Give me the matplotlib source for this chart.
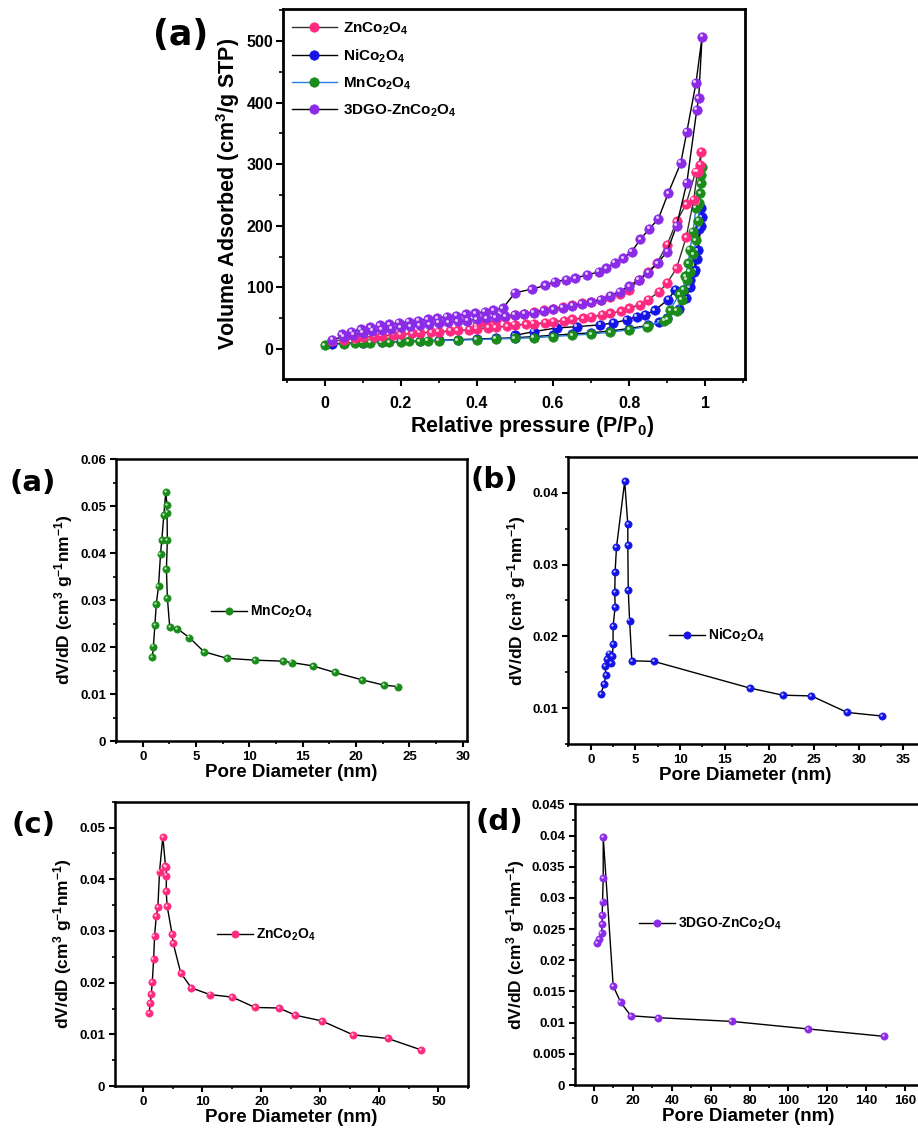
import matplotlib
matplotlib.use("Agg")
import matplotlib.pyplot as plt
from matplotlib import transforms
from matplotlib.ticker import MultipleLocator, FuncFormatter


# N2 adsorption / desorption isotherms (P/P0, cm3/g STP)
zn_ads_p = [0.02, 0.05, 0.08, 0.1, 0.13, 0.15, 0.18, 0.2, 0.23, 0.25, 0.28, 0.3, 0.33, 0.35,
            0.38, 0.4, 0.43, 0.45, 0.48, 0.5, 0.53, 0.55, 0.58, 0.6, 0.63, 0.65, 0.68, 0.7,
            0.73, 0.75, 0.78, 0.8, 0.83, 0.85, 0.88, 0.9, 0.925, 0.95, 0.97, 0.98, 0.99]
zn_ads_v = [12, 15, 17, 19, 20, 21, 23, 24, 25, 26, 27, 28, 29, 30,
            31, 33, 34, 35, 37, 39, 40, 41, 42, 44, 46, 48, 50, 52,
            55, 58, 61, 66, 72, 80, 93, 107, 131, 181, 242, 288, 320]
zn_des_p = [0.987, 0.975, 0.95, 0.925, 0.9, 0.873, 0.85, 0.825, 0.8, 0.775, 0.75, 0.725, 0.7,
            0.675, 0.65, 0.625, 0.6, 0.575, 0.55, 0.525, 0.5, 0.475, 0.45, 0.425, 0.4]
zn_des_v = [299, 288, 235, 207, 169, 139, 125, 112, 95, 89, 85, 80, 76,
            74, 71, 68, 65, 63, 60, 57, 55, 52, 47, 42, 38]

ni_ads_p = [0.02, 0.05, 0.1, 0.15, 0.2, 0.25, 0.3, 0.35, 0.4, 0.45, 0.5, 0.55, 0.6, 0.65,
            0.7, 0.75, 0.8, 0.85, 0.88, 0.9, 0.93, 0.95, 0.96, 0.97, 0.98, 0.985, 0.99]
ni_ads_v = [8, 9, 10, 11, 12, 13, 14, 15, 16, 17, 18, 20, 22, 24,
            26, 29, 33, 38, 43, 50, 64, 82, 100, 125, 160, 195, 228]
ni_des_p = [0.991, 0.989, 0.978, 0.974, 0.96, 0.943, 0.921, 0.903, 0.868, 0.842, 0.82,
            0.794, 0.758, 0.724, 0.662, 0.61, 0.55, 0.5]
ni_des_v = [214, 199, 146, 128, 112, 96, 96, 80, 63, 55, 52, 47, 42, 39, 36, 34, 28, 22]

mn_ads_p = [0.0, 0.05, 0.08, 0.1, 0.12, 0.15, 0.17, 0.2, 0.22, 0.25, 0.27, 0.3, 0.35, 0.4,
            0.45, 0.5, 0.55, 0.6, 0.65, 0.7, 0.75, 0.8, 0.85, 0.9, 0.925, 0.939, 0.952, 0.96,
            0.969, 0.976, 0.982, 0.985, 0.987, 0.989, 0.991]
mn_ads_v = [6, 8, 9, 9.5, 10, 10.5, 11, 11.5, 12, 12.5, 13, 13.5, 14, 15,
            16, 17, 18, 20, 22, 24, 27, 31, 37, 48, 62, 80, 112, 125,
            154, 176, 208, 237, 253, 269, 296]
mn_des_p = [0.988, 0.982, 0.976, 0.968, 0.96, 0.956, 0.948, 0.943, 0.932, 0.908, 0.892, 0.846]
mn_des_v = [282, 234, 229, 190, 161, 139, 118, 96, 89, 63, 46, 36]

go_ads_p = [0.02, 0.05, 0.075, 0.1, 0.125, 0.15, 0.175, 0.2, 0.225, 0.25, 0.275, 0.3, 0.325,
            0.35, 0.375, 0.4, 0.425, 0.45, 0.475, 0.5, 0.525, 0.55, 0.575, 0.6, 0.625, 0.65,
            0.675, 0.7, 0.725, 0.75, 0.775, 0.8, 0.825, 0.85, 0.875, 0.9, 0.925, 0.952,
            0.978, 0.983, 0.992]
go_ads_v = [15, 20, 23, 26, 29, 31, 33, 35, 37, 38, 40, 42, 43,
            45, 46, 48, 50, 51, 53, 55, 57, 59, 62, 64, 67, 70,
            73, 76, 80, 86, 93, 102, 112, 124, 139, 158, 200, 270,
            388, 407, 507]
go_des_p = [0.976, 0.952, 0.936, 0.903, 0.877, 0.853, 0.83, 0.807, 0.785, 0.763, 0.74, 0.72,
            0.69, 0.658, 0.635, 0.605, 0.58, 0.544, 0.5, 0.468, 0.443, 0.42, 0.395, 0.37,
            0.345, 0.32, 0.295, 0.27, 0.245, 0.22, 0.195, 0.17, 0.145, 0.12, 0.095, 0.07, 0.045]
go_des_v = [432, 353, 302, 253, 211, 195, 178, 158, 147, 140, 131, 125,
            120, 115, 112, 109, 103, 97, 91, 66, 63, 60, 58, 56,
            54, 52, 50, 48, 46, 44, 42, 40, 38, 35, 32, 28, 24]

# BJH pore size distributions (nm, cm3 g-1 nm-1)
mn_d = [0.9, 1.0, 1.14, 1.27, 1.48, 1.67, 1.79, 1.98, 2.16, 2.28, 2.28, 2.31, 2.22, 2.31,
        2.53, 3.24, 4.38, 5.74, 7.9, 10.56, 13.15, 13.95, 15.93, 17.99, 20.59, 22.59, 23.89]
mn_dv = [0.0178, 0.0201, 0.0246, 0.0291, 0.0329, 0.0398, 0.0428, 0.0481, 0.0529, 0.0502,
         0.0486, 0.0427, 0.0366, 0.0305, 0.0243, 0.0239, 0.0220, 0.0190, 0.0176, 0.0172,
         0.0170, 0.0167, 0.0160, 0.0146, 0.0130, 0.0119, 0.0116]

ni_d = [1.12, 1.5, 1.68, 1.61, 1.87, 2.06, 2.32, 2.43, 2.5, 2.5, 2.73, 2.69, 2.73, 2.88,
        3.8, 4.15, 4.15, 4.2, 4.35, 4.6, 7.1, 17.8, 21.5, 24.7, 28.7, 32.6]
ni_dv = [0.0120, 0.0133, 0.0146, 0.0158, 0.0168, 0.0176, 0.0163, 0.0172, 0.0189, 0.0214,
         0.0241, 0.0262, 0.0290, 0.0324, 0.0416, 0.0356, 0.0327, 0.0264, 0.0222, 0.0166,
         0.0165, 0.0128, 0.0118, 0.0117, 0.0094, 0.0089]

zn_d = [0.95, 1.18, 1.34, 1.51, 1.74, 1.9, 2.18, 2.46, 2.74, 3.3, 3.75, 3.86, 3.92, 3.86,
        4.03, 4.87, 5.04, 6.33, 8.12, 11.25, 15.06, 18.93, 22.96, 25.76, 30.24, 35.55,
        41.43, 47.03]
zn_dv = [0.0141, 0.0160, 0.0178, 0.0201, 0.0245, 0.0290, 0.0328, 0.0346, 0.0415, 0.0482,
         0.0426, 0.0423, 0.0407, 0.0377, 0.0348, 0.0294, 0.0277, 0.0219, 0.0190, 0.0177,
         0.0172, 0.0152, 0.0151, 0.0137, 0.0126, 0.0099, 0.0092, 0.0070]

go_d = [1.54, 2.56, 3.93, 4.27, 4.27, 4.44, 4.79, 4.79, 9.91, 13.68, 18.97, 32.8, 70.8,
        109.9, 149.2]
go_dv = [0.0227, 0.0234, 0.0243, 0.0258, 0.0272, 0.0294, 0.0332, 0.0398, 0.0159, 0.0133,
         0.0111, 0.0108, 0.0102, 0.0090, 0.0078]

PINK = "#ff2a7f"
BLUE = "#1414e6"
GREEN = "#1a8c1a"
PURPLE = "#8b2be8"

plt.rcParams["font.family"] = "Liberation Sans"
plt.rcParams["font.weight"] = "bold"
plt.rcParams["axes.labelweight"] = "bold"
plt.rcParams["mathtext.fontset"] = "custom"
plt.rcParams["mathtext.rm"] = "Liberation Sans:bold"
plt.rcParams["mathtext.it"] = "Liberation Sans:bold"
plt.rcParams["mathtext.bf"] = "Liberation Sans:bold"

fig = plt.figure(figsize=(9.18, 11.3), dpi=100)


def ball_line(ax, x, y, color, line_color, ms, label=None, z=2):
    """Line with shaded 'ball' markers."""
    ln, = ax.plot(x, y, "-", color=line_color, lw=1.0, marker="o", ms=ms,
                  mfc=color, mec=color, mew=0.5, label=label, zorder=z)
    shift = transforms.offset_copy(ax.transData, fig=fig, x=-ms * 0.16, y=ms * 0.16,
                                   units="points")
    ax.plot(x, y, ls="none", marker="o", ms=ms * 0.32, mfc="white", mec="none",
            alpha=0.75, transform=shift, zorder=z + 0.1)
    return ln


def style_axes(ax, lw, fs):
    for sp in ax.spines.values():
        sp.set_linewidth(lw)
    ax.tick_params(which="major", direction="out", length=5, width=1.5, labelsize=fs, pad=3)
    ax.tick_params(which="minor", direction="out", length=3, width=1.2)
    ax.tick_params(top=False, right=False)
    for t in ax.get_xticklabels() + ax.get_yticklabels():
        t.set_fontweight("bold")


fmt = FuncFormatter(lambda v, _: "%g" % round(v, 6))

# isotherms
ax = fig.add_axes([0.3083, 0.6646, 0.5033, 0.3274])
h_ni = ball_line(ax, ni_ads_p + ni_des_p, ni_ads_v + ni_des_v, BLUE, "black", 6.8,
                 r"NiCo$_2$O$_4$", z=2)
h_mn = ball_line(ax, mn_ads_p + mn_des_p, mn_ads_v + mn_des_v, GREEN, "#2a7fe0", 6.8,
                 r"MnCo$_2$O$_4$", z=3)
h_zn = ball_line(ax, zn_ads_p + zn_des_p, zn_ads_v + zn_des_v, PINK, "#333333", 6.8,
                 r"ZnCo$_2$O$_4$", z=4)
h_go = ball_line(ax, go_ads_p + go_des_p, go_ads_v + go_des_v, PURPLE, "black", 6.8,
                 r"3DGO-ZnCo$_2$O$_4$", z=5)
ax.set_xlim(-0.11, 1.105)
ax.set_ylim(-49, 552)
ax.xaxis.set_major_locator(MultipleLocator(0.2))
ax.xaxis.set_minor_locator(MultipleLocator(0.1))
ax.yaxis.set_major_locator(MultipleLocator(100))
ax.yaxis.set_minor_locator(MultipleLocator(50))
ax.xaxis.set_major_formatter(fmt)
style_axes(ax, 2.0, 11.5)
ax.tick_params(axis="x", which="major", pad=7)
ax.tick_params(axis="y", which="major", pad=2)
ax.set_xlabel(r"Relative pressure (P/P$_0$)", fontsize=15.5)
ax.set_ylabel(r"Volume Adsorbed (cm$^3$/g STP)", fontsize=15.5)
ax.xaxis.set_label_coords(0.54, -0.095)
ax.yaxis.set_label_coords(-0.088, 0.5)
ax.legend(handles=[h_zn, h_ni, h_mn, h_go], loc="upper left", bbox_to_anchor=(0.02, 0.97),
          frameon=False, fontsize=11, handlelength=2.9, handletextpad=0.4,
          labelspacing=0.7, borderaxespad=0, borderpad=0)
fig.text(0.197, 0.969, "(a)", fontsize=25, fontweight="bold", ha="center", va="center",
         family="DejaVu Sans")

ylab = r"dV/dD (cm$^3$ g$^{-1}$nm$^{-1}$)"
panels = [
    ([0.1264, 0.3442, 0.3824, 0.2496], mn_d, mn_dv, GREEN, r"MnCo$_2$O$_4$",
     (-2.5, 30.4), (0, 0.06), 5, 0.01, (0.27, 0.457), "(a)", (0.036, 0.573), -0.118),
    ([0.6187, 0.3416, 0.3868, 0.254], ni_d, ni_dv, BLUE, r"NiCo$_2$O$_4$",
     (-2.55, 37.2), (0.005, 0.045), 5, 0.01, (0.285, 0.377), "(b)", (0.539, 0.575), -0.113),
    ([0.1253, 0.0389, 0.3845, 0.2516], zn_d, zn_dv, PINK, r"ZnCo$_2$O$_4$",
     (-4.8, 55), (0, 0.055), 10, 0.01, (0.29, 0.531), "(c)", (0.037, 0.27), -0.115),
    ([0.6264, 0.0398, 0.3765, 0.2484], go_d, go_dv, PURPLE, r"3DGO-ZnCo$_2$O$_4$",
     (-9.7, 168), (0, 0.045), 20, 0.005, (0.186, 0.574), "(d)", (0.544, 0.273), -0.14),
]

for rect, d, dv, col, lab, xl, yl, xstep, ystep, lpos, tag, tpos, ylx in panels:
    ax = fig.add_axes(rect)
    h = ball_line(ax, d, dv, col, "black", 5.2, lab)
    ax.set_xlim(*xl)
    ax.set_ylim(*yl)
    ax.xaxis.set_major_locator(MultipleLocator(xstep))
    ax.xaxis.set_minor_locator(MultipleLocator(xstep / 2))
    ax.yaxis.set_major_locator(MultipleLocator(ystep))
    ax.yaxis.set_minor_locator(MultipleLocator(ystep / 2))
    ax.xaxis.set_major_formatter(fmt)
    ax.yaxis.set_major_formatter(fmt)
    style_axes(ax, 1.8, 9.5)
    ax.tick_params(which="major", length=4)
    ax.tick_params(which="minor", length=2.5)
    ax.set_xlabel("Pore Diameter (nm)", fontsize=13.5, labelpad=1)
    ax.set_ylabel(ylab, fontsize=12.5)
    ax.yaxis.set_label_coords(ylx, 0.5)
    ax.legend(handles=[h], loc="center left", bbox_to_anchor=lpos, frameon=False,
              fontsize=10, handlelength=2.6, handletextpad=0.2, borderaxespad=0,
              borderpad=0)
    fig.text(tpos[0], tpos[1], tag, fontsize=21, fontweight="bold", ha="center",
             va="center", family="DejaVu Sans")

fig.savefig("out.png", dpi=100)
